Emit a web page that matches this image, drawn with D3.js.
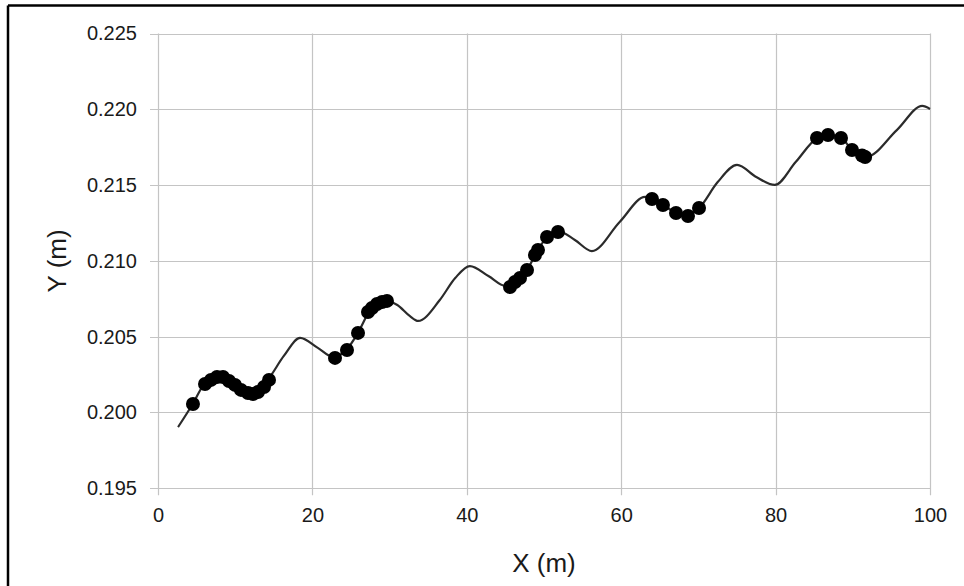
<!DOCTYPE html>
<html>
<head>
<meta charset="utf-8">
<script src="https://cdn.jsdelivr.net/npm/d3@7"></script>
<style>
  html, body { margin: 0; padding: 0; background: #fff; }
  svg { display: block; }
  text { font-family: "Liberation Sans", Arial, sans-serif; fill: #1a1a1a; }
</style>
</head>
<body>
<svg id="chart" width="964" height="586"></svg>
<script>
// ---- Data ----
const xTicks = [0, 20, 40, 60, 80, 100];
const yTicks = [0.195, 0.200, 0.205, 0.210, 0.215, 0.220, 0.225];

// Smooth trajectory curve (knots)
const curveX = [2.6, 4.5, 6.1, 8.0, 10.0, 12.2, 14.3, 16.3, 18.4, 20.7, 22.7, 24.5, 25.9, 27.5, 28.4, 29.5,
  31.0, 32.6, 33.7, 36.5, 38.5, 40.4, 42.8, 45.0, 46.2, 47.8, 49.2, 50.4, 51.8, 54.0, 56.2, 59.8,
  63.1, 65.4, 67.1, 68.4, 70.1, 72.5, 75.0, 77.5, 79.9, 82.6, 85.4, 86.8, 88.5, 89.9, 91.7, 95.7, 99.0, 100];
const curveY = [0.19904, 0.20056, 0.20195, 0.20241, 0.20182, 0.20116, 0.20221, 0.20373, 0.20492, 0.20426, 0.20366, 0.20419, 0.20525, 0.20676, 0.20716, 0.20736,
  0.20709, 0.20637, 0.20604, 0.20742, 0.20887, 0.20966, 0.20900, 0.20835, 0.20861, 0.20940, 0.21072, 0.21158, 0.21197, 0.21138, 0.21065, 0.21257,
  0.21422, 0.21369, 0.21316, 0.21296, 0.21349, 0.21520, 0.21633, 0.21553, 0.21501, 0.21652, 0.21811, 0.21830, 0.21811, 0.21732, 0.21685, 0.21863, 0.22022, 0.22002];

// Measured points
const pointX = [4.53, 6.09, 6.87, 7.64, 8.42, 9.20, 9.97, 10.75, 11.66, 12.31, 12.95, 13.73, 14.38,
  22.93, 24.48, 25.91, 27.20, 27.72, 28.37, 29.02, 29.66,
  45.60, 46.24, 46.89, 47.80, 48.83, 49.22, 50.39, 51.81,
  63.99, 65.41, 67.10, 68.65, 70.08,
  85.36, 86.79, 88.47, 89.90, 91.20, 91.60];
const pointY = [0.20056, 0.20188, 0.20215, 0.20234, 0.20234, 0.20208, 0.20182, 0.20149, 0.20129, 0.20122, 0.20135, 0.20168, 0.20215,
  0.20360, 0.20412, 0.20525, 0.20663, 0.20689, 0.20716, 0.20729, 0.20736,
  0.20828, 0.20861, 0.20887, 0.20940, 0.21039, 0.21072, 0.21158, 0.21191,
  0.21408, 0.21369, 0.21316, 0.21296, 0.21349,
  0.21811, 0.21830, 0.21811, 0.21732, 0.21695, 0.21685];

const xLabel = "X (m)";
const yLabel = "Y (m)";

// ---- Drawing ----
const svg = d3.select("#chart");
const W = 964, H = 586;

// Image frame (black border, top & left visible)
svg.append("line").attr("x1", 8).attr("x2", W).attr("y1", 5.5).attr("y2", 5.5)
  .attr("stroke", "#000").attr("stroke-width", 2.5);
svg.append("line").attr("x1", 8).attr("x2", 8).attr("y1", 5.5).attr("y2", H)
  .attr("stroke", "#000").attr("stroke-width", 2.5);

const x = d3.scaleLinear().domain([0, 100]).range([158, 930]);
const y = d3.scaleLinear().domain([0.195, 0.225]).range([488.3, 33.5]);

const gridColor = "#c4c4c4";

// Gridlines
svg.append("g").selectAll("line").data(yTicks).join("line")
  .attr("x1", x(0) - 8).attr("x2", x(100))
  .attr("y1", d => Math.round(y(d)) + 0.5).attr("y2", d => Math.round(y(d)) + 0.5)
  .attr("stroke", gridColor).attr("stroke-width", 1.2);
svg.append("g").selectAll("line").data(xTicks).join("line")
  .attr("x1", d => Math.round(x(d)) + 0.5).attr("x2", d => Math.round(x(d)) + 0.5)
  .attr("y1", y(0.225)).attr("y2", y(0.195) + 7)
  .attr("stroke", gridColor).attr("stroke-width", 1.2);

// Axes (labels via d3 axes)
const yAxis = d3.axisLeft(y).tickValues(yTicks).tickFormat(d3.format(".3f")).tickSize(0).tickPadding(21);
const gy = svg.append("g").attr("transform", `translate(${x(0)},0)`).call(yAxis);
gy.select(".domain").remove();
gy.selectAll("text").attr("font-size", 20).attr("fill", "#1a1a1a")
  .style("font-family", '"Liberation Sans", Arial, sans-serif');

const xAxis = d3.axisBottom(x).tickValues(xTicks).tickFormat(d3.format("d")).tickSize(0).tickPadding(20);
const gx = svg.append("g").attr("transform", `translate(0,${y(0.195)})`).call(xAxis);
gx.select(".domain").remove();
gx.selectAll("text").attr("font-size", 20).attr("fill", "#1a1a1a")
  .style("font-family", '"Liberation Sans", Arial, sans-serif');

// Axis titles
svg.append("text").attr("x", (x(0) + x(100)) / 2).attr("y", 572)
  .attr("text-anchor", "middle").attr("font-size", 26).text(xLabel);
svg.append("text").attr("transform", `translate(66,${(y(0.195) + y(0.225)) / 2}) rotate(-90)`)
  .attr("text-anchor", "middle").attr("font-size", 26).text(yLabel);

// Curve
const curveData = curveX.map((d, i) => [d, curveY[i]]);
const line = d3.line().x(d => x(d[0])).y(d => y(d[1])).curve(d3.curveMonotoneX);
svg.append("path").datum(curveData).attr("d", line)
  .attr("fill", "none").attr("stroke", "#2b2b2b").attr("stroke-width", 2.2);

// Points
const pts = pointX.map((d, i) => [d, pointY[i]]);
svg.append("g").selectAll("circle").data(pts).join("circle")
  .attr("cx", d => x(d[0])).attr("cy", d => y(d[1])).attr("r", 7).attr("fill", "#000");
</script>
</body>
</html>
